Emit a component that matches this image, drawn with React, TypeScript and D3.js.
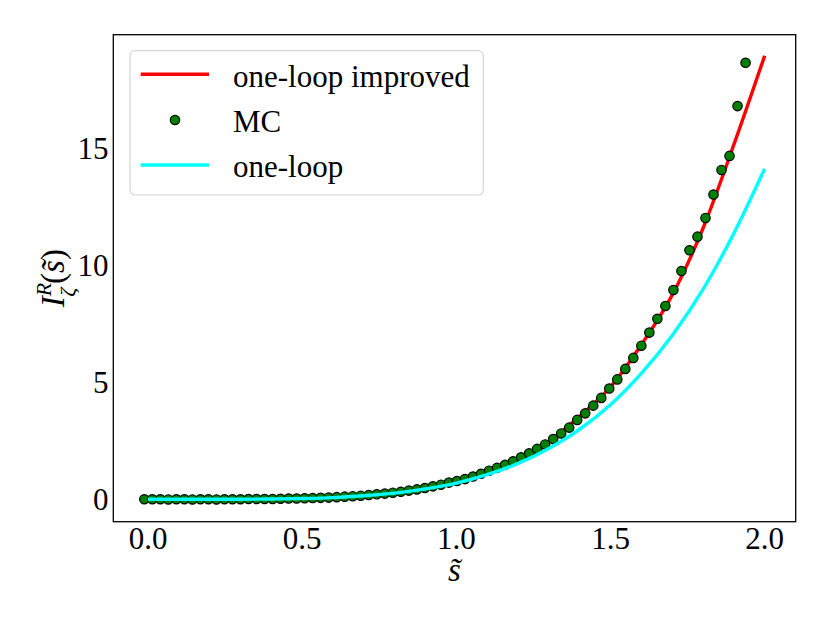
import * as React from 'react';
import * as d3 from "d3";

// s grid for the two analytic curves
const lineS = [0, 0.1, 0.2, 0.3, 0.4, 0.5, 0.6, 0.7, 0.8, 0.9, 1.0, 1.1, 1.2, 1.3, 1.4, 1.5, 1.6, 1.7, 1.8, 1.9, 2.0];
const improvedV = [0, 0.00, 0.00, 0.00, 0.01, 0.03, 0.07, 0.14, 0.26, 0.45, 0.73, 1.12, 1.66, 2.47, 3.54, 4.80, 6.60, 8.72, 11.58, 15.15, 18.95];
const oneLoopV = [0, 0.00, 0.00, 0.00, 0.01, 0.03, 0.07, 0.15, 0.26, 0.44, 0.69, 1.05, 1.53, 2.17, 2.99, 4.04, 5.38, 7.00, 8.97, 11.36, 14.12];

// Monte Carlo points
const mcS = [
    -0.012, 0.014, 0.040, 0.066, 0.092, 0.118, 0.144, 0.170, 0.196, 0.222,
    0.248, 0.274, 0.300, 0.326, 0.352, 0.378, 0.404, 0.430, 0.456, 0.482,
    0.508, 0.534, 0.560, 0.586, 0.612, 0.638, 0.664, 0.690, 0.716, 0.742,
    0.768, 0.794, 0.820, 0.846, 0.872, 0.898, 0.924, 0.950, 0.976, 1.002,
    1.028, 1.054, 1.080, 1.106, 1.132, 1.158, 1.184, 1.210, 1.236, 1.262,
    1.288, 1.314, 1.340, 1.366, 1.392, 1.418, 1.444, 1.470, 1.496, 1.522,
    1.548, 1.574, 1.600, 1.626, 1.652, 1.678, 1.704, 1.730, 1.756, 1.782,
    1.808, 1.834, 1.860, 1.886, 1.912, 1.938];
const mcV = [
    0.00, 0.00, 0.00, -0.01, 0.00, 0.00, -0.01, 0.00, 0.00, -0.01,
    0.00, 0.00, 0.00, 0.01, 0.01, 0.01, 0.01, 0.02, 0.03, 0.03,
    0.04, 0.05, 0.06, 0.07, 0.09, 0.11, 0.13, 0.15, 0.18, 0.21,
    0.24, 0.28, 0.32, 0.37, 0.42, 0.48, 0.55, 0.62, 0.71, 0.78,
    0.86, 0.97, 1.09, 1.22, 1.34, 1.47, 1.62, 1.79, 1.96, 2.15,
    2.34, 2.57, 2.81, 3.06, 3.39, 3.67, 4.00, 4.33, 4.73, 5.12,
    5.57, 6.04, 6.56, 7.12, 7.71, 8.26, 8.94, 9.75, 10.64, 11.22,
    12.02, 13.02, 14.07, 14.67, 16.80, 18.65];

const xTicks = [0, 0.5, 1.0, 1.5, 2.0];
const yTicks = [0, 5, 10, 15];

const font = '"Liberation Serif", "DejaVu Serif", serif';

interface Point { x: number; y: number; }

export default function App() {
    const width = 830, height = 623;
    const left = 113.3, right = 795.7, top = 34.7, bottom = 521.7;

    const x = d3.scaleLinear().domain([-0.1126, 2.1006]).range([left, right]);
    const y = d3.scaleLinear().domain([-0.96, 19.85]).range([bottom, top]);

    const line = d3.line<Point>()
        .curve(d3.curveMonotoneX)
        .x(p => x(p.x))
        .y(p => y(p.y));

    const improved = lineS.map((s, i) => ({ x: s, y: improvedV[i] }));
    const oneLoop = lineS.map((s, i) => ({ x: s, y: oneLoopV[i] }));

    const fs = 31;
    const txt = { fontFamily: font, fill: "#000" };

    return (
        <div style={{ position: "absolute", left: 0, top: 0 }}>
            <svg width={width} height={height} style={{ display: "block", background: "#fff" }}>
                <defs>
                    <clipPath id="plotArea">
                        <rect x={left} y={top} width={right - left} height={bottom - top} />
                    </clipPath>
                </defs>

                <g clipPath="url(#plotArea)">
                    <path d={line(improved) || undefined} fill="none" stroke="#ff0000" strokeWidth={3.4} />
                    {mcS.map((s, i) =>
                        <circle key={i} cx={x(s)} cy={y(mcV[i])} r={4.7} fill="#008000" stroke="#000" strokeWidth={1.2} />
                    )}
                    <path d={line(oneLoop) || undefined} fill="none" stroke="#00ffff" strokeWidth={3.4} />
                </g>

                <rect x={left} y={top} width={right - left} height={bottom - top} fill="none" stroke="#000" strokeWidth={1.3} />

                {xTicks.map(t =>
                    <text key={t} x={x(t)} y={548.5} fontSize={fs} textAnchor="middle" style={txt}>{t.toFixed(1)}</text>
                )}
                {yTicks.map(t =>
                    <text key={t} x={108.5} y={y(t) + 10.5} fontSize={fs} textAnchor="end" style={txt}>{t}</text>
                )}

                <text x={(left + right) / 2} y={581} fontSize={33} textAnchor="middle" fontStyle="italic" style={txt}>{"s\u0303"}</text>

                <text transform={`translate(64, ${(top + bottom) / 2}) rotate(-90)`} textAnchor="middle" fontSize={33} style={txt}>
                    <tspan fontStyle="italic">I</tspan>
                    <tspan fontStyle="italic" fontSize={22} dy={-13}>R</tspan>
                    <tspan fontStyle="italic" fontSize={22} dx={-14} dy={24}>{"\u03B6"}</tspan>
                    <tspan dy={-11} dx={4}>(</tspan>
                    <tspan fontStyle="italic">{"s\u0303"}</tspan>
                    <tspan>)</tspan>
                </text>

                <g>
                    <rect x={130} y={50.7} width={353.3} height={144.3} rx={5} fill="#fff" fillOpacity={0.8} stroke="#d6d6d6" strokeWidth={1.2} />
                    <line x1={140.7} x2={209} y1={74.3} y2={74.3} stroke="#ff0000" strokeWidth={3.4} />
                    <circle cx={175} cy={120} r={4.7} fill="#008000" stroke="#000" strokeWidth={1.2} />
                    <line x1={140.7} x2={209} y1={165} y2={165} stroke="#00ffff" strokeWidth={3.4} />
                    <text x={233} y={87.3} fontSize={fs} style={txt}>one-loop improved</text>
                    <text x={233} y={132} fontSize={fs} style={txt}>MC</text>
                    <text x={233} y={176.7} fontSize={fs} style={txt}>one-loop</text>
                </g>
            </svg>
        </div>
    );
}
